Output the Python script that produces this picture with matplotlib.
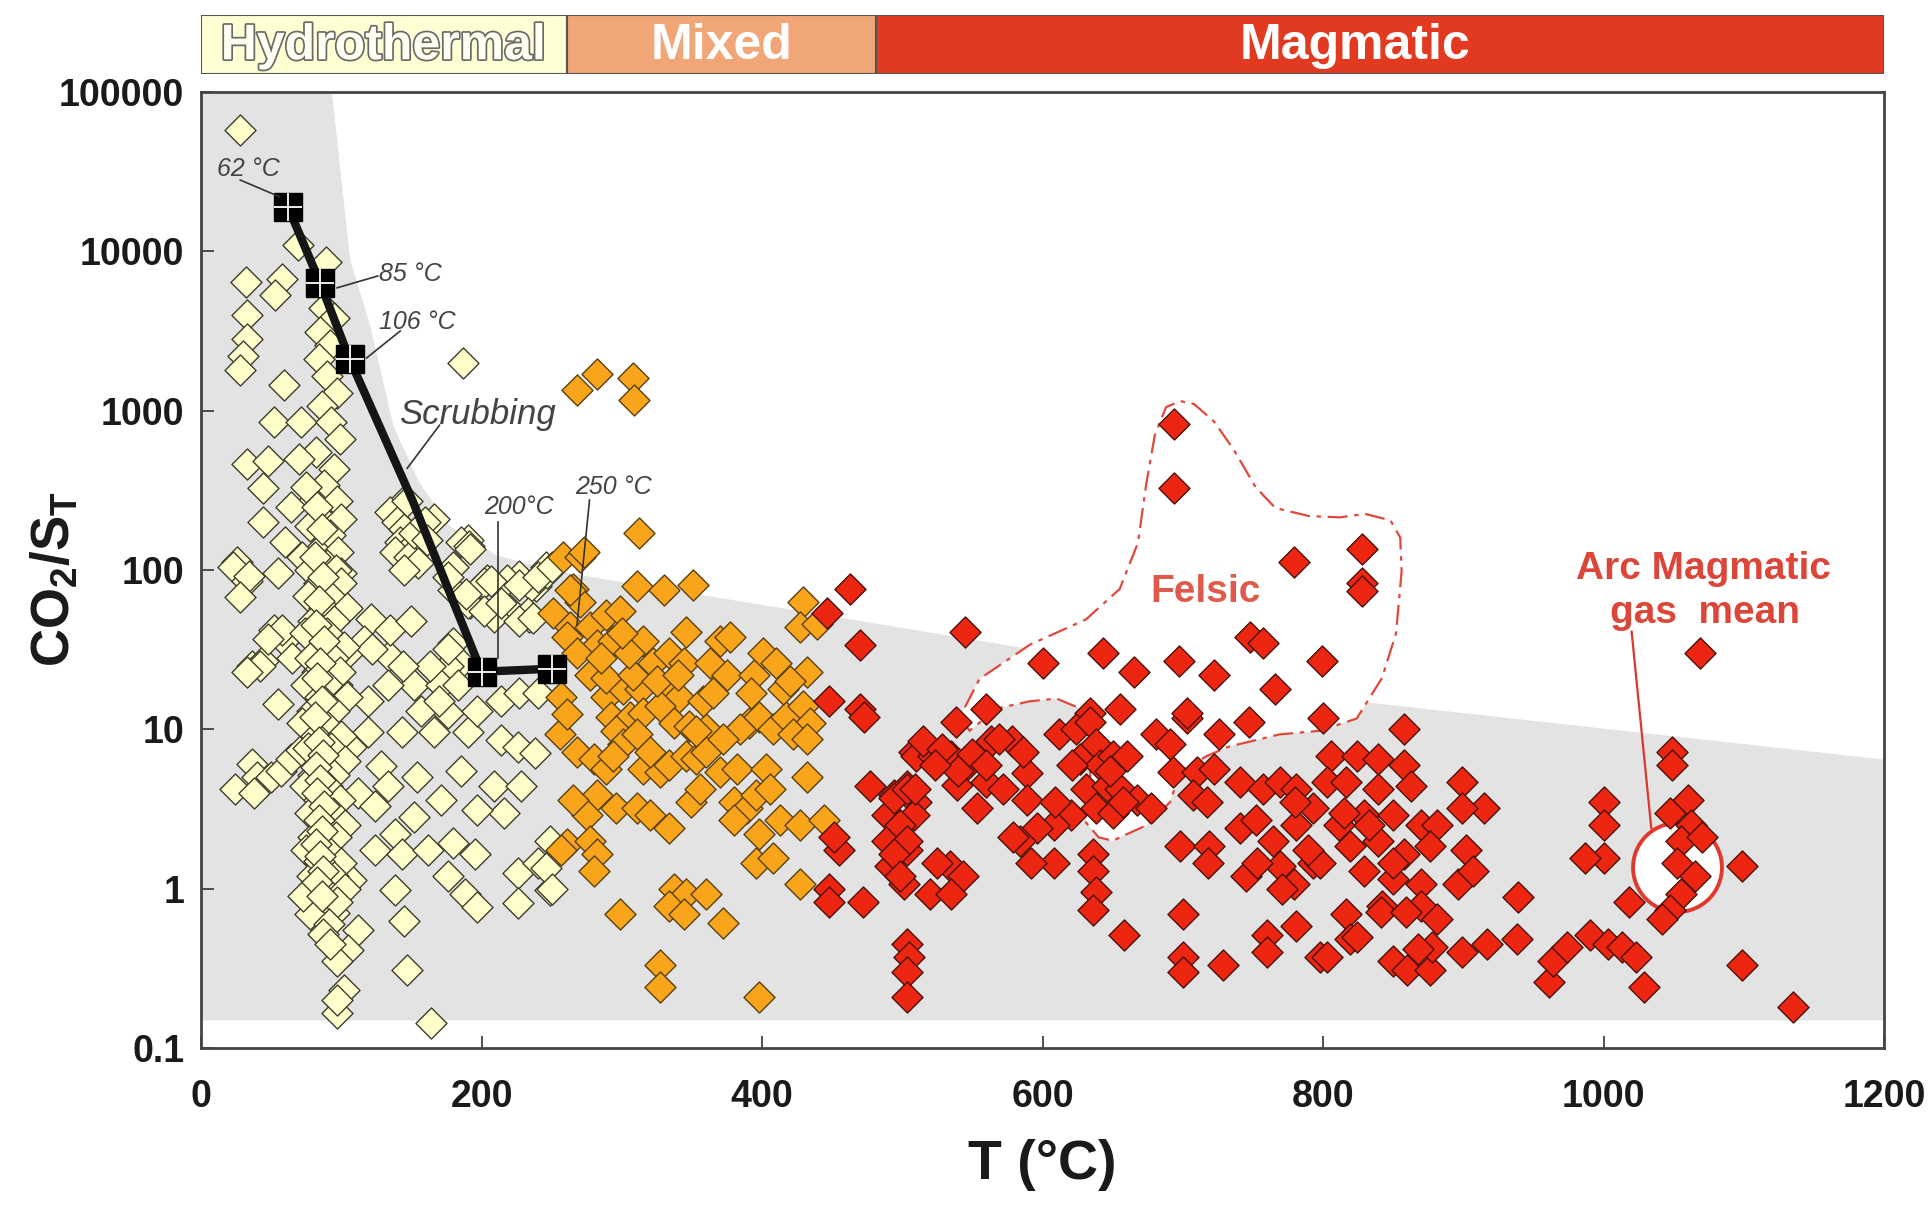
import numpy as np
import matplotlib
matplotlib.use("Agg")
import matplotlib.pyplot as plt
from matplotlib.patches import Rectangle, Polygon
import matplotlib.patheffects as pe

plt.rcParams['font.family'] = ['Liberation Sans', 'DejaVu Sans']
plt.rcParams['mathtext.default'] = 'regular'

# ---- hydrothermal samples: T (degC) and CO2/ST
hydro_T = [28, 69, 89, 32, 58, 53, 33, 33, 30, 28, 187, 59,
           52, 71, 33, 48, 44, 44, 26, 145, 166, 190, 23, 33,
           88, 95, 85, 92, 84, 90, 97, 86, 93, 99, 82, 95,
           88, 80, 97, 86, 100, 92, 83, 98, 90, 80, 70, 75,
           64, 78, 60, 72, 135, 140, 145, 142, 150, 138, 148, 155,
           145, 152, 160, 147, 185, 161, 191, 180, 204, 227, 246, 239,
           192, 234, 220, 100, 55, 34, 28, 52, 59, 36, 44, 55,
           24, 36, 40, 50, 57, 64, 71, 38, 121, 116, 105, 134,
           152, 133, 119, 97, 143, 166, 176, 190, 197, 202, 180, 190,
           180, 185, 176, 214, 226, 238, 209, 228, 216, 197, 171, 154,
           185, 152, 138, 124, 143, 162, 180, 195, 176, 188, 197, 138,
           107, 95, 81, 95, 226, 240, 249, 226, 112, 105, 97, 145,
           147, 102, 97, 164, 97, 119, 128, 112, 124, 133, 107, 157,
           171, 209, 218, 235, 233, 247, 249, 246, 250, 176, 192, 207,
           227, 240, 250, 189, 202, 214, 227, 237, 176, 163, 183, 170,
           214, 227, 240, 122, 135, 150, 144, 58, 48, 65, 42, 33,
           78, 96, 84, 100, 76, 92, 88, 104, 80, 95, 74, 90,
           86, 102, 78, 94, 83, 99, 75, 90, 85, 104, 79, 95,
           72, 88, 82, 100, 76, 93, 86, 103, 80, 95, 74, 90,
           84, 99, 78, 94, 88, 103, 80, 96, 75, 90, 85, 100,
           79, 94, 88, 103, 82, 97, 78, 91, 87, 73, 84, 92,
           83, 86, 81, 87, 84, 82, 88, 85, 83, 86, 81, 84,
           87, 82, 85, 83, 88, 84, 86, 82, 85, 87, 83, 86]
hydro_v = [58000, 11000, 8600, 6400, 6700, 5300, 4000, 2800, 2200, 1800, 2000, 1450,
           850, 850, 460, 480, 325, 200, 112, 270, 210, 155, 105, 85,
           4400, 3800, 3100, 2600, 2100, 1660, 1300, 1070, 850, 660, 550, 430,
           340, 270, 270, 210, 210, 165, 130, 130, 107, 105, 500, 330,
           250, 190, 150, 120, 230, 200, 180, 150, 140, 130, 120, 110,
           100, 170, 200, 270, 150, 155, 141, 105, 87, 92, 105, 79,
           62, 51, 56, 96, 96, 92, 68, 42, 36, 25, 27, 14.5,
           4.2, 6.1, 5.0, 5.0, 5.5, 6.5, 7.4, 4.0, 49, 36, 30, 29,
           19, 19, 15, 19, 9.6, 9.6, 12.6, 9.6, 13, 83, 75, 62,
           35, 26, 25, 8.6, 7.8, 7.1, 4.4, 4.4, 3.0, 3.1, 3.6, 5.0,
           5.5, 2.8, 2.2, 1.74, 1.66, 1.74, 1.94, 1.66, 1.2, 0.93, 0.77, 0.98,
           1.13, 0.93, 0.74, 0.70, 1.26, 1.45, 0.98, 0.81, 0.55, 0.41, 0.35, 0.63,
           0.31, 0.23, 0.165, 0.143, 0.2, 9.6, 5.9, 4.0, 3.3, 4.4, 7.8, 13,
           19, 51, 87, 79, 54, 96, 2.0, 1.35, 1.0, 91, 135, 85,
           81, 91, 105, 71, 55, 62, 48, 50, 32, 25, 19, 15,
           15, 17, 17, 32, 42, 48, 25, 42, 37, 28, 25, 23,
           100, 100, 83, 83, 69, 69, 58, 58, 48, 48, 40, 40,
           33, 33, 28, 28, 23, 23, 19, 19, 16, 16, 13, 13,
           11, 11, 9.1, 9.1, 7.6, 7.6, 6.3, 6.3, 5.2, 5.2, 4.4, 4.4,
           3.6, 3.6, 3.0, 3.0, 2.5, 2.5, 2.1, 2.1, 1.74, 1.74, 1.45, 1.45,
           1.2, 1.2, 1.0, 1.0, 0.83, 0.83, 0.69, 0.6, 0.52, 0.9, 1.5, 0.45,
           250, 180, 120, 90, 64, 45, 36, 26, 21, 15, 12, 8.3,
           6.9, 5.8, 4.8, 4.0, 3.3, 2.7, 2.3, 1.9, 1.6, 1.3, 1.1, 0.9]

# ---- mixed samples
mixed_T = [268, 282, 308, 309, 312, 258, 270, 273, 265, 270, 251, 263,
           277, 289, 299, 311, 330, 351, 263, 282, 294, 277, 315, 322,
           334, 344, 346, 370, 377, 363, 375, 394, 401, 410, 429, 427,
           439, 432, 289, 301, 313, 292, 306, 315, 332, 341, 327, 337,
           348, 360, 296, 301, 311, 256, 268, 280, 289, 294, 315, 327,
           334, 346, 353, 360, 370, 382, 391, 398, 384, 408, 417, 429,
           434, 422, 432, 403, 432, 282, 296, 275, 311, 320, 334, 349,
           356, 380, 389, 396, 406, 380, 398, 413, 427, 444, 261, 277,
           282, 280, 396, 408, 427, 337, 346, 360, 334, 344, 299, 372,
           327, 327, 398, 261, 268, 289, 308, 353, 320, 372, 257, 261,
           265, 257, 285, 305, 325, 340, 358, 365, 392, 415, 420, 300]
mixed_v = [1350, 1700, 1600, 1170, 170, 120, 120, 130, 76, 63, 54, 44,
           44, 52, 55, 79, 75, 80, 75, 34, 36, 22, 36, 26,
           30, 26, 41, 36, 38, 26, 22, 22, 30, 26, 63, 44,
           46, 23, 16, 18, 18, 12, 12, 12.6, 18, 16, 14, 11,
           10.5, 10, 9.8, 8.1, 9.3, 9.3, 7.2, 6.5, 5.6, 6.8, 5.6, 5.4,
           6.0, 6.8, 6.5, 7.2, 5.4, 5.6, 11, 12, 10, 10, 12, 14,
           11, 9.3, 8.7, 5.6, 5.0, 3.9, 3.2, 2.9, 3.2, 2.9, 2.4, 3.5,
           4.2, 3.5, 3.2, 3.9, 4.2, 2.7, 2.2, 2.7, 2.5, 2.7, 1.9, 2.0,
           1.66, 1.3, 1.45, 1.55, 1.07, 1.0, 0.93, 0.93, 0.78, 0.69, 0.69, 0.61,
           0.33, 0.24, 0.21, 38, 30, 21, 22, 9.8, 7.2, 8.7, 16, 12.4,
           3.6, 1.74, 28, 30, 20, 22, 15, 17, 17, 18, 20, 40]

# ---- magmatic samples
magm_T = [463, 446, 470, 448, 470, 473, 508, 477, 494, 503, 510, 489,
          498, 508, 489, 503, 491, 501, 455, 451, 448, 448, 472, 503,
          505, 503, 503, 694, 694, 779, 545, 600, 643, 665, 697, 722,
          748, 757, 799, 766, 538, 560, 634, 655, 703, 726, 747, 800,
          510, 522, 535, 546, 539, 563, 578, 553, 560, 572, 589, 589,
          612, 624, 634, 638, 627, 641, 650, 660, 631, 646, 655, 667,
          677, 638, 650, 620, 608, 596, 584, 608, 636, 636, 638, 636,
          658, 681, 691, 703, 693, 710, 722, 707, 717, 698, 719, 700,
          700, 700, 729, 741, 757, 769, 781, 741, 752, 764, 781, 793,
          745, 769, 779, 793, 781, 760, 760, 798, 494, 503, 498, 503,
          494, 498, 520, 534, 543, 515, 528, 550, 540, 560, 828, 828,
          828, 858, 806, 824, 839, 858, 803, 816, 839, 863, 899, 915,
          899, 811, 829, 850, 870, 881, 819, 839, 858, 876, 902, 798,
          829, 850, 870, 896, 907, 842, 816, 870, 881, 939, 803, 819,
          850, 860, 876, 878, 899, 917, 938, 961, 964, 974, 990, 1003,
          1013, 1023, 1029, 1000, 1000, 1000, 987, 1018, 1049, 1049, 1060, 1047,
          1062, 1055, 1070, 1052, 1065, 1055, 1047, 1042, 1099, 1099, 1135, 1069,
          780, 815, 833, 850, 841, 824, 868, 859, 789, 753, 771, 718,
          509, 523, 525, 535, 609, 621, 579, 592, 648, 657, 586, 569]
magm_v = [76, 54, 34, 15, 13.5, 12, 7.2, 4.4, 3.9, 4.4, 3.5, 2.9,
          2.5, 2.9, 2.0, 1.74, 1.38, 1.07, 1.74, 2.1, 1.0, 0.83, 0.83, 0.45,
          0.37, 0.30, 0.21, 830, 325, 113, 41, 26, 30, 23, 27, 22,
          38, 35, 27, 18, 11.2, 13.5, 12.6, 13.5, 11.8, 9.3, 11.2, 11.8,
          6.8, 6.8, 6.8, 6.0, 4.5, 8.5, 8.5, 3.2, 4.7, 4.2, 5.3, 3.6,
          9.3, 10, 11.2, 8.1, 6.5, 6.0, 6.8, 6.8, 4.2, 4.4, 4.2, 3.6,
          3.2, 3.2, 3.0, 2.9, 2.5, 2.4, 2.0, 1.45, 1.66, 1.3, 0.95, 0.74,
          0.51, 9.3, 8.1, 12.6, 5.4, 5.4, 5.6, 3.9, 3.5, 1.86, 1.86, 0.69,
          0.37, 0.30, 0.33, 4.7, 4.2, 4.7, 4.2, 2.4, 2.7, 2.0, 2.5, 3.2,
          1.2, 1.38, 1.07, 1.45, 0.58, 0.51, 0.40, 0.37, 3.7, 4.2, 2.5, 2.0,
          1.66, 1.2, 0.93, 1.38, 1.2, 8.5, 7.5, 7.0, 5.5, 6.0, 135, 83,
          74, 10, 6.8, 6.8, 6.5, 6.0, 4.7, 4.7, 4.2, 4.4, 4.7, 3.2,
          3.2, 2.5, 2.9, 2.9, 2.5, 2.5, 1.86, 2.0, 1.66, 1.86, 1.74, 1.45,
          1.3, 1.15, 1.07, 1.07, 1.3, 0.78, 0.69, 0.78, 0.65, 0.89, 0.37, 0.48,
          0.35, 0.31, 0.31, 0.43, 0.40, 0.45, 0.48, 0.26, 0.35, 0.43, 0.51, 0.45,
          0.43, 0.37, 0.24, 3.5, 2.5, 1.55, 1.55, 0.83, 7.2, 6.0, 3.6, 3.0,
          2.5, 2.0, 2.1, 1.45, 1.2, 0.93, 0.74, 0.65, 1.38, 0.33, 0.18, 30,
          3.5, 3.0, 2.5, 1.45, 0.71, 0.5, 0.42, 0.71, 1.74, 1.45, 1.0, 1.45,
          4.2, 6.0, 1.45, 0.93, 3.5, 6.0, 2.1, 1.45, 5.5, 3.5, 7.2, 8.7]

# scrubbing path and its labelled temperatures
scrub_T = [62, 85, 106, 151, 200, 250]
scrub_v = [19000, 6300, 2100, 270, 23, 24]
step_T = [62, 85, 106, 200, 250]
step_v = [19000, 6300, 2100, 23, 24]
step_lbl = ['62 °C', '85 °C', '106 °C', '200°C', '250 °C']

# upper edge of the grey field
gray_T = [0, 93, 106, 120, 137, 155, 177, 210, 250, 484, 798, 1200]
gray_top = [100000, 100000, 8900, 3500, 800, 360, 190, 125, 100, 46, 16, 6.5]
gray_bottom = 0.15

# felsic field outline
felsic_T = [541, 548, 567, 591, 610, 627, 634, 634, 631, 640, 650, 674, 691, 698,
            717, 733, 769, 798, 824, 842, 852, 856, 855, 848, 830, 812, 790, 766,
            752, 736, 722, 708, 698, 688, 680, 674, 668, 655, 631, 591, 555]
felsic_v = [11.9, 9.8, 13.5, 15, 15.6, 13.5, 9.3, 4.5, 2.6, 2.1, 2.0, 2.5, 3.5, 5.4,
            6.8, 7.8, 9.3, 9.8, 11.7, 21, 40, 98, 160, 205, 225, 214, 218, 245,
            330, 575, 860, 1100, 1150, 1050, 700, 350, 148, 76, 49, 34, 20.7]

# arc magmatic gas mean
arc_T, arc_v = 1052, 1.37

# regime bar
regime_names = ['Hydrothermal', 'Mixed', 'Magmatic']
regime_edges = [0, 261, 481, 1200]
regime_colors = ['#ffffd4', '#f1a677', '#e23a21']
regime_text_T = [130, 371, 823]

xticks = [0, 200, 400, 600, 800, 1000, 1200]
yticks = [0.1, 1, 10, 100, 1000, 10000, 100000]
ytick_lbl = ['0.1', '1', '10', '100', '1000', '10000', '100000']

fig = plt.figure(figsize=(19.33, 12.07), dpi=100)
ax = fig.add_axes([0.104, 0.1317, 0.8707, 0.7921])
ax.set_xlim(0, 1200)
ax.set_yscale('log')
ax.set_ylim(0.1, 100000)

ax.fill_between(gray_T, gray_bottom, gray_top, color='#e3e3e3', lw=0, zorder=0)

ax.add_patch(Polygon(np.column_stack([felsic_T, felsic_v]), closed=True,
                     facecolor='white', edgecolor='#e0483c', lw=1.6,
                     ls=(0, (9, 3, 2, 3)), zorder=1))
ax.plot([arc_T], [arc_v], 'o', ms=64, mfc='white', mec='#e03a2c', mew=2.8, zorder=1)

msize = 250
ax.scatter(hydro_T, hydro_v, marker='D', s=msize, c='#ffffcc', edgecolors='#3d3d2e',
           linewidths=1.0, zorder=3)
ax.scatter(mixed_T, mixed_v, marker='D', s=msize, c='#f9a51c', edgecolors='#5a4010',
           linewidths=1.0, zorder=3)
ax.scatter(magm_T, magm_v, marker='D', s=msize, c='#ec2611', edgecolors='#4a1008',
           linewidths=1.0, zorder=3)

# scrubbing trend
ax.plot(scrub_T, scrub_v, color='#151515', lw=6, zorder=4, solid_capstyle='butt')
ax.plot(step_T, step_v, 's', ms=20, color='black', zorder=5)
ax.plot(step_T, step_v, '+', ms=20, mew=1.3, color='white', zorder=6)

ann = dict(color='#444444', fontsize=18, style='italic', zorder=7)
lead = dict(color='#333333', lw=1.2, zorder=7)
ax.text(34, 33000, step_lbl[0], ha='center', va='center', **ann)
ax.plot([28, 56], [28000, 22000], **lead)
ax.text(127, 7200, step_lbl[1], ha='left', va='center', **ann)
ax.plot([126, 97], [7000, 5900], **lead)
ax.text(154, 3600, step_lbl[2], ha='center', va='center', **ann)
ax.plot([142, 118], [3160, 2140], **lead)
ax.text(227, 250, step_lbl[3], ha='center', va='center', **ann)
ax.plot([212, 212], [200, 28], **lead)
ax.text(294, 330, step_lbl[4], ha='center', va='center', **ann)
ax.plot([277, 268], [275, 45], **lead)
ax.text(197, 950, 'Scrubbing', ha='center', va='center', color='#444444',
        fontsize=25, style='italic', zorder=7)
ax.plot([170, 147], [810, 435], **lead)

ax.text(716, 73, 'Felsic', ha='center', va='center', color='#e05a4c',
        fontsize=28, fontweight='bold', zorder=7)
ax.text(1071, 102, 'Arc Magmatic', ha='center', va='center', color='#dc4638',
        fontsize=28, fontweight='bold', zorder=7)
ax.text(1072, 54, 'gas  mean', ha='center', va='center', color='#dc4638',
        fontsize=28, fontweight='bold', zorder=7)
ax.plot([1020, 1034], [41, 2.4], color='#d8392b', lw=1.6, zorder=2)

ax.set_xticks(xticks)
ax.set_xticklabels([str(t) for t in xticks])
ax.set_yticks(yticks)
ax.set_yticklabels(ytick_lbl)
ax.yaxis.set_minor_locator(matplotlib.ticker.NullLocator())
ax.tick_params(direction='in', length=9, width=1.2, color='#333333',
               labelsize=27, labelcolor='#1a1a1a')
ax.tick_params(axis='x', pad=22)
ax.tick_params(axis='y', pad=12)
for lab in ax.get_xticklabels() + ax.get_yticklabels():
    lab.set_fontweight('bold')
for sp in ax.spines.values():
    sp.set_color('#444444')
    sp.set_linewidth(2)

fig.text(0.5394, 0.035, 'T (°C)', ha='center', va='center', fontsize=40,
         fontweight='bold', color='#1a1a1a')
fig.text(0.0285, 0.52, r'CO$_2$/S$_T$', ha='center', va='center', rotation=90,
         fontsize=38, fontweight='bold', color='#1a1a1a')

# regime bar on top
bar = fig.add_axes([0.104, 0.9387, 0.8707, 0.0489])
bar.set_xlim(0, 1200)
bar.set_ylim(0, 1)
bar.axis('off')
for i, name in enumerate(regime_names):
    x0, x1 = regime_edges[i], regime_edges[i + 1]
    bar.add_patch(Rectangle((x0, 0), x1 - x0, 1, facecolor=regime_colors[i],
                            edgecolor='#555555', lw=1.5))
    if i == 0:
        bar.text(regime_text_T[i], 0.47, name, ha='center', va='center', fontsize=36,
                 fontweight='bold', color='#fffff2',
                 path_effects=[pe.withStroke(linewidth=2.5, foreground='#6a6a6a')])
    else:
        bar.text(regime_text_T[i], 0.47, name, ha='center', va='center', fontsize=36,
                 fontweight='bold', color='white')

fig.savefig('out.png', dpi=100, facecolor='white')
